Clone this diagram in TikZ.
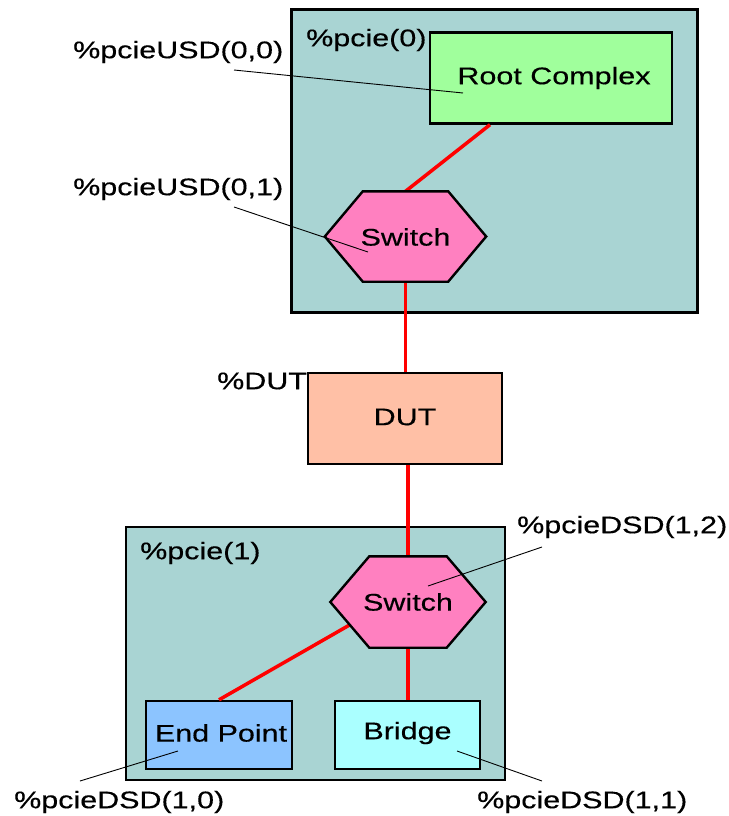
\documentclass[tikz,border=0pt]{standalone}
\usepackage{fontspec}
\setmainfont{Liberation Sans}[FakeStretch=1.27, FakeBold=0.4]
\usetikzlibrary{calc}

\definecolor{pcieteal}{HTML}{A9D4D3}
\definecolor{rootgreen}{HTML}{A0FF9C}
\definecolor{switchpink}{HTML}{FF80C0}
\definecolor{dutpeach}{HTML}{FFC0A6}
\definecolor{epblue}{HTML}{8CC4FF}
\definecolor{bridgecyan}{HTML}{AAFFFF}
\definecolor{linkred}{HTML}{FF0000}

\begin{document}
\begin{tikzpicture}[x=1pt, y=-1pt,
  font=\fontsize{24}{28}\selectfont,
  domainbox/.style={draw=black, line width=2.4pt, fill=pcieteal, inner sep=0pt},
  unitbox/.style={draw=black, line width=2.4pt, inner sep=0pt},
  hexspot/.style={inner sep=0pt},
  hexfill/.style={draw=black, line width=2.4pt, fill=switchpink, line join=miter},
  link/.style={draw=linkred, line width=3.5pt},
  leader/.style={draw=black, line width=0.9pt},
  tag/.style={inner sep=0pt, anchor=west}]

\useasboundingbox (0,0) rectangle (728,816);
\fill[white] (0,0) rectangle (728,816);

% PCIe domains
\node[domainbox, minimum width=406pt, minimum height=303pt] (pcie0) at (494.5,161) {};
\node[domainbox, minimum width=379pt, minimum height=253pt] (pcie1) at (315.5,653.5) {};
\node[tag] (pcie0lbl) at (306,40) {\%pcie(0)};
\node[tag] (pcie1lbl) at (140,553) {\%pcie(1)};

% anchor areas of the two switches
\node[hexspot, minimum width=161pt, minimum height=90pt] (sw0) at (405.5,236.5) {};
\node[hexspot, minimum width=155pt, minimum height=91pt] (sw1) at (408,602) {};

% boxes
\node[unitbox, fill=rootgreen, minimum width=242pt, minimum height=91pt] (rc) at (551,78) {};
\node[unitbox, fill=dutpeach, minimum width=194pt, minimum height=91pt] (dut) at (405,418.5) {};
\node[unitbox, fill=epblue, minimum width=146pt, minimum height=68pt] (ep) at (219,735) {};
\node[unitbox, fill=bridgecyan, minimum width=145pt, minimum height=68pt] (br) at (407.5,735) {};

% red links
\draw[link] ([xshift=-61pt]rc.south) -- (sw0.north);
\draw[link] (sw0.south) -- (dut.north -| sw0.south);
\draw[link] (dut.south -| sw1.north) -- (sw1.north);
\draw[link] ($(sw1.west)!0.5!([xshift=39pt]sw1.south west)$) -- (ep.north);
\draw[link] (sw1.south) -- (br.north -| sw1.south);

% switch outlines
\foreach \s/\d in {sw0/38pt, sw1/39pt}{
  \draw[hexfill] (\s.west) -- ([xshift=\d]\s.north west) -- ([xshift=-\d]\s.north east)
    -- (\s.east) -- ([xshift=-\d]\s.south east) -- ([xshift=\d]\s.south west) -- cycle;
}

% texts of the units
\node[inner sep=0pt] (rctxt) at (554,78) {Root Complex};
\node[inner sep=0pt] (sw0txt) at (405.5,237) {Switch};
\node[inner sep=0pt] (sw1txt) at (408,602) {Switch};
\node[inner sep=0pt] (duttxt) at (405,417) {DUT};
\node[inner sep=0pt] (eptxt) at (221,733) {End Point};
\node[inner sep=0pt] (brtxt) at (407.5,733) {Bridge};

% instance path labels
\node[tag] (usd00) at (73,52) {\%pcieUSD(0,0)};
\node[tag] (usd01) at (73,189) {\%pcieUSD(0,1)};
\node[tag] (dutlbl) at (217,381) {\%DUT};
\node[tag] (dsd12) at (517,527) {\%pcieDSD(1,2)};
\node[tag] (dsd10) at (14,802) {\%pcieDSD(1,0)};
\node[tag] (dsd11) at (477,802) {\%pcieDSD(1,1)};

% leader lines from labels to their units
\coordinate (l00a) at (234,70);
\coordinate (l00b) at (463,93);
\coordinate (l01a) at (234,207);
\coordinate (l01b) at (368,252);
\coordinate (l12a) at (542,547);
\coordinate (l12b) at (428,586);
\coordinate (l10a) at (80,781);
\coordinate (l10b) at (178,751);
\coordinate (l11a) at (542,781);
\coordinate (l11b) at (457,751);
\draw[leader] (l00a) -- (l00b);
\draw[leader] (l01a) -- (l01b);
\draw[leader] (l12a) -- (l12b);
\draw[leader] (l10a) -- (l10b);
\draw[leader] (l11a) -- (l11b);
\end{tikzpicture}
\end{document}
